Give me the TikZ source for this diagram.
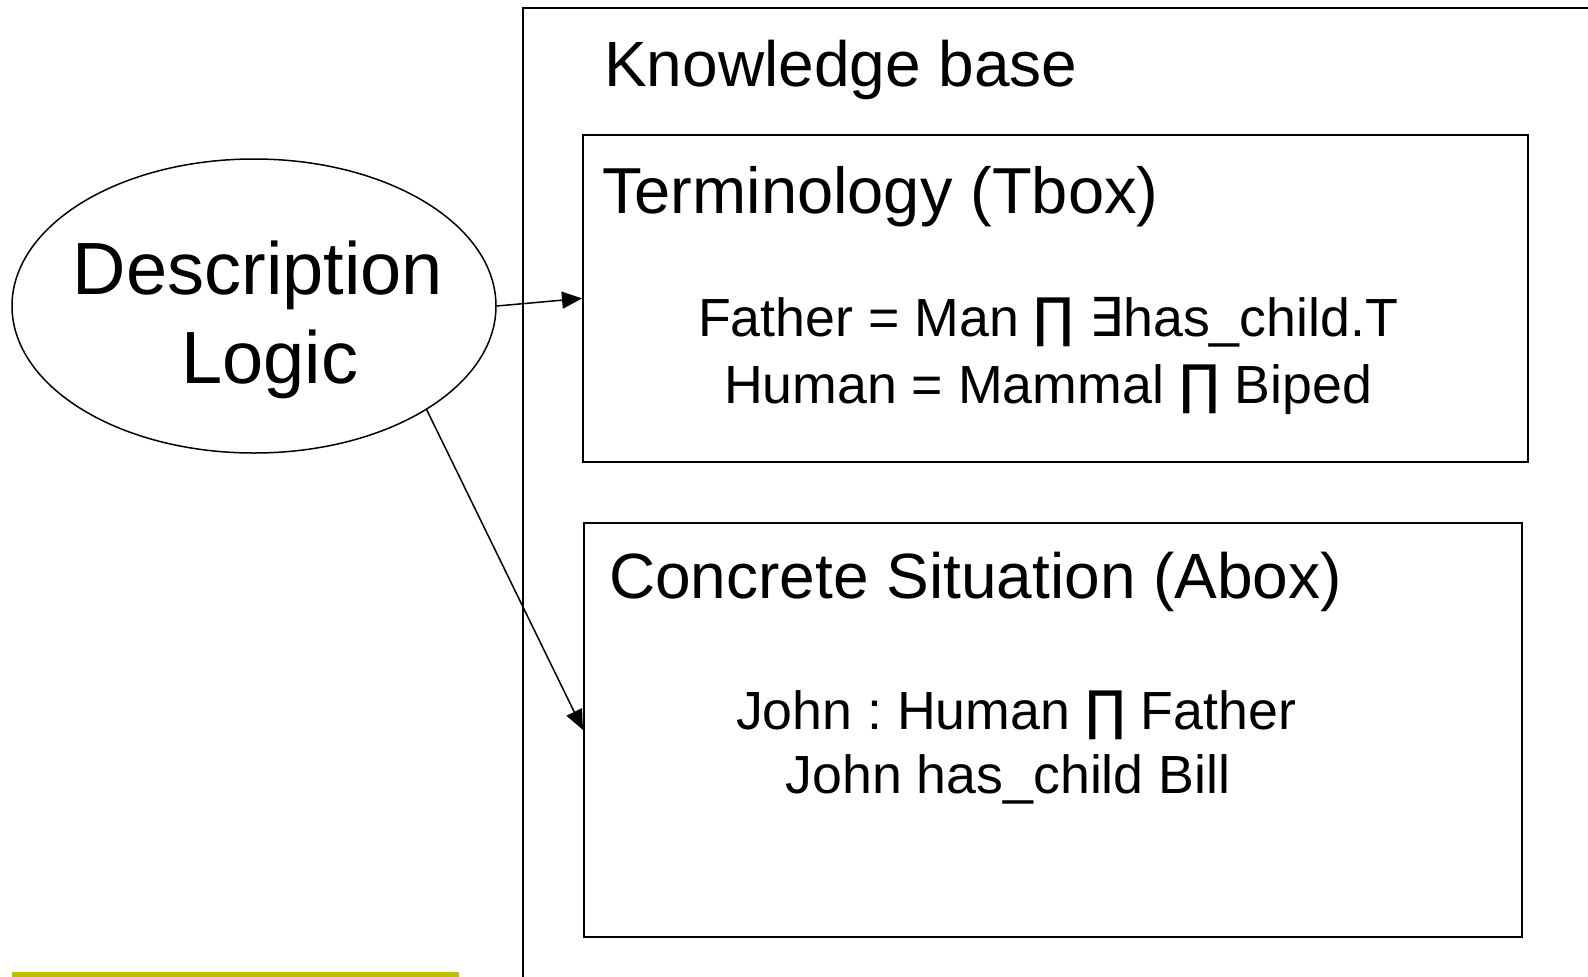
\documentclass[tikz,border=0pt]{standalone}
\usepackage{fontspec}
\setmainfont{Liberation Sans}
\newfontfamily\symf{DejaVu Sans}
\usetikzlibrary{shapes.geometric,arrows.meta}
\definecolor{olivebar}{HTML}{BBBF00}
\frenchspacing
\tikzset{
  box/.style={draw, line width=1.8pt, rectangle, inner sep=0pt, anchor=north west},
  txt/.style={inner sep=0pt, font=\fontsize{64}{76}\selectfont},
  big/.style={inner sep=0pt, font=\fontsize{74}{88}\selectfont},
  formula/.style={inner sep=0pt, anchor=base, font=\fontsize{53.7}{64}\selectfont},
  conn/.style={line width=1.5pt, -{Triangle[length=20pt,width=17pt]}},
}
\begin{document}
\begin{tikzpicture}[x=1pt,y=-1pt]
\useasboundingbox (0,0) rectangle (1588,977);
% knowledge base outer frame (clipped by picture edge)
\coordinate (kbbl) at (523,977);
\coordinate (kbtl) at (523,8);
\coordinate (kbtr) at (1588,8);
\draw[line width=1.8pt] (kbbl) -- (kbtl) -- (kbtr);
\node[txt, anchor=base west] (kbtitle) at (604,86) {Knowledge base};
% Tbox
\node[box, minimum width=945pt, minimum height=327pt] (tbox) at (582,134) {};
\node[txt, anchor=base west, font=\fontsize{65}{78}\selectfont] (ttitle) at (602,213) {Terminology (Tbox)};
\node[formula] (f1) at (1048,336) {Father = Man {\symf ∏} {\symf ∃}has\_child.T};
\node[formula] (f2) at (1048,403) {Human = Mammal {\symf ∏} Biped};
% Abox
\node[box, minimum width=938pt, minimum height=414pt] (abox) at (583,522) {};
\node[txt, anchor=base west] (atitle) at (609,598) {Concrete Situation (Abox)};
\node[formula] (a1) at (1016,729) {John : Human {\symf ∏} Father};
\node[formula] (a2) at (1008,793) {John has\_child Bill};
% Description logic ellipse
\node[draw, ellipse, line width=1.5pt, minimum width=484pt, minimum height=294pt, inner sep=0pt] (dl) at (254,306) {};
\node[big, anchor=base] (dl1) at (258,294) {Description};
\node[big, anchor=base] (dl2) at (270,383) {Logic};
% connectors
\draw[conn] (dl.east) -- (tbox.west);
\draw[conn] (dl.-31) -- (abox.west);
% yellow bar
\fill[olivebar] (12,972) rectangle (459,977);
\end{tikzpicture}
\end{document}
